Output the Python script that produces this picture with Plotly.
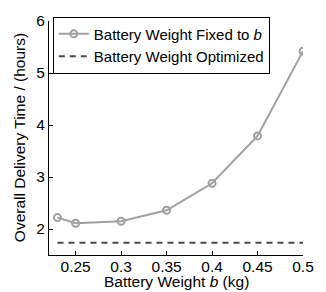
import plotly.graph_objects as go

battery_weight = [0.23, 0.25, 0.30, 0.35, 0.40, 0.45, 0.50]
delivery_time_fixed = [2.22, 2.11, 2.15, 2.36, 2.88, 3.79, 5.42]
delivery_time_optimized = [1.735, 1.735]
optimized_x = [0.23, 0.50]
x_ticks = [0.25, 0.3, 0.35, 0.4, 0.45, 0.5]
x_tick_labels = ["0.25", "0.3", "0.35", "0.4", "0.45", "0.5"]
y_ticks = [2, 3, 4, 5, 6]

font = "Liberation Sans, Arial, sans-serif"
fs = 15.5

fig = go.Figure()
fig.add_trace(go.Scatter(
    x=battery_weight, y=delivery_time_fixed, mode="lines+markers",
    name="Battery Weight Fixed to <i>b</i>",
    line=dict(color="#a0a0a0", width=2),
    marker=dict(symbol="circle-open", size=7, color="#a0a0a0", line=dict(width=2)),
))
fig.add_trace(go.Scatter(
    x=optimized_x, y=delivery_time_optimized, mode="lines",
    name="Battery Weight Optimized",
    line=dict(color="#4a4a4a", width=2, dash="6px,5px"),
))

fig.update_layout(
    width=326, height=292,
    margin=dict(l=49, r=13, t=12, b=37),
    paper_bgcolor="white", plot_bgcolor="white",
    font=dict(family=font, size=fs, color="black"),
    showlegend=True,
    legend=dict(x=0.015, y=(255 - 37) / 243, xanchor="left", yanchor="middle",
                bordercolor="black", borderwidth=1, bgcolor="white",
                font=dict(size=15), tracegroupgap=0, itemwidth=30),
    xaxis=dict(range=[0.2207, 0.5], tickvals=x_ticks, ticktext=x_tick_labels,
               showgrid=False, zeroline=False, showline=True, linecolor="black",
               linewidth=1, ticks="inside", ticklen=4, tickcolor="black",
               ticklabelstandoff=-3),
    yaxis=dict(range=[1.5, 6], tickvals=y_ticks,
               showgrid=False, zeroline=False, showline=True, linecolor="black",
               linewidth=1, ticks="inside", ticklen=4, tickcolor="black"),
    annotations=[
        dict(text="Battery Weight <i>b</i> (kg)", xref="paper", yref="paper",
             x=0.5, y=-28 / 243, xanchor="center", yanchor="middle",
             showarrow=False, font=dict(size=fs)),
        dict(text="Overall Delivery Time / (hours)", xref="paper", yref="paper",
             x=-31 / 264, y=0.5, xanchor="center", yanchor="middle", textangle=-90,
             showarrow=False, font=dict(size=fs)),
    ],
)

fig.write_html("out.html", config={"displayModeBar": False},
               post_script="document.body.style.margin='0';")
